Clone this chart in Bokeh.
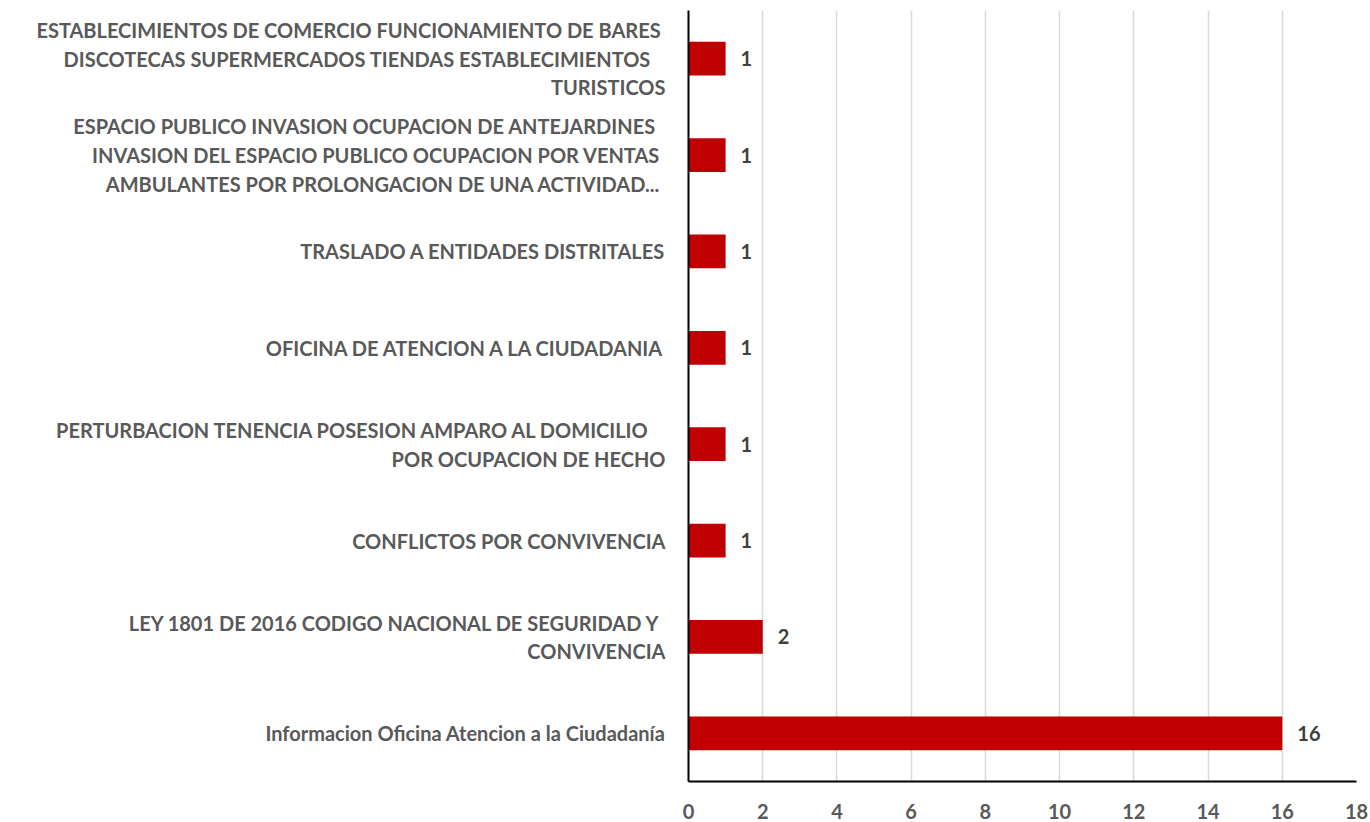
from bokeh.plotting import figure
from bokeh.models import ColumnDataSource, FactorRange, Range1d, FixedTicker
from bokeh.embed import file_html
from bokeh.resources import INLINE
from bokeh.core.properties import value

categories = [
    "ESTABLECIMIENTOS DE COMERCIO  FUNCIONAMIENTO DE BARES\nDISCOTECAS  SUPERMERCADOS  TIENDAS  ESTABLECIMIENTOS\nTURISTICOS",
    "ESPACIO PUBLICO  INVASION  OCUPACION DE ANTEJARDINES\nINVASION DEL ESPACIO PUBLICO  OCUPACION POR VENTAS\nAMBULANTES  POR PROLONGACION DE UNA ACTIVIDAD...",
    "TRASLADO A ENTIDADES DISTRITALES",
    "OFICINA DE ATENCION A LA CIUDADANIA",
    "PERTURBACION  TENENCIA  POSESION  AMPARO AL DOMICILIO\nPOR OCUPACION DE HECHO",
    "CONFLICTOS POR CONVIVENCIA",
    "LEY 1801 DE 2016  CODIGO NACIONAL DE SEGURIDAD Y\nCONVIVENCIA",
    "Informacion Oficina Atencion a la Ciudadanía",
]
counts = [1, 1, 1, 1, 1, 1, 2, 16]
x_ticks = [0, 2, 4, 6, 8, 10, 12, 14, 16, 18]

FONT = "Lato"

source = ColumnDataSource(dict(cat=categories, val=counts, lab=[str(v) for v in counts]))

p = figure(
    width=1370, height=822,
    y_range=FactorRange(factors=list(reversed(categories))),
    x_range=Range1d(0, 18),
    output_backend="svg", toolbar_location=None,
    min_border_left=688, min_border_right=14, min_border_top=10, min_border_bottom=41,
)
p.outline_line_color = None
p.background_fill_color = "white"

p.hbar(y="cat", right="val", left=0, height=0.35, source=source,
       fill_color="#C00000", line_color=None)
p.text(x="val", y="cat", text="lab", source=source, x_offset=15,
       text_align="left", text_baseline="middle",
       text_font=value(FONT), text_font_style="bold", text_font_size="20px",
       text_color="#404040")

p.xaxis.ticker = FixedTicker(ticks=x_ticks)
p.xgrid.grid_line_color = "#d9d9d9"
p.xgrid.grid_line_width = 1.5
p.ygrid.grid_line_color = None

for ax in (p.xaxis[0], p.yaxis[0]):
    ax.axis_line_color = "black"
    ax.axis_line_width = 2
    ax.major_tick_line_color = None
    ax.minor_tick_line_color = None
    ax.major_tick_out = 0
    ax.major_tick_in = 0
    ax.major_label_text_font = FONT
    ax.major_label_text_font_style = "bold"
    ax.major_label_text_font_size = "20px"
    ax.major_label_text_color = "#595959"

p.xaxis.major_label_standoff = 22
p.yaxis.major_label_standoff = 23
p.yaxis.major_label_text_line_height = 1.2

open("out.html", "w").write(file_html(p, INLINE))
